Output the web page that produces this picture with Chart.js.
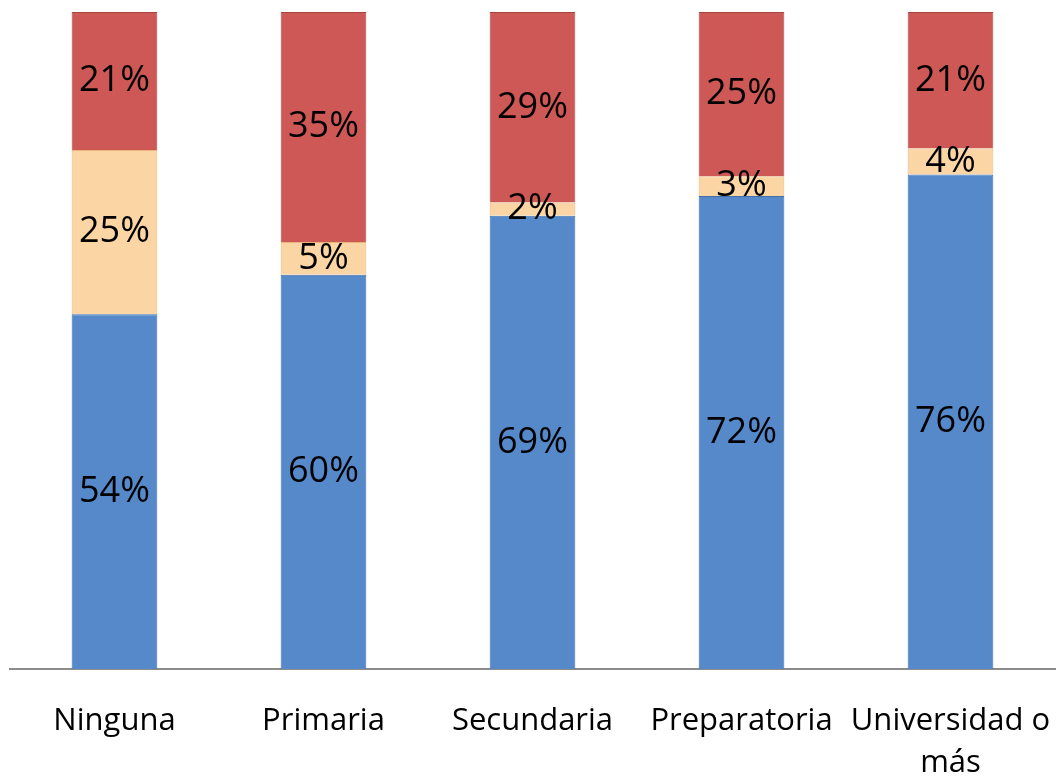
<!DOCTYPE html>
<html>
<head>
<meta charset="utf-8">
<script src="https://cdn.jsdelivr.net/npm/chart.js@4/dist/chart.umd.min.js"></script>
<style>
  html, body { margin: 0; padding: 0; background: #fff; }
  #wrap { width: 1057px; height: 777px; }
</style>
</head>
<body>
<div id="wrap"><canvas id="chart"></canvas></div>
<script>
// Datos
const categories = ["Ninguna", "Primaria", "Secundaria", "Preparatoria", ["Universidad o", "más"]];
const serieAzul = [54, 60, 69, 72, 76];
const serieDurazno = [25, 5, 2, 3, 4];
const serieRoja = [21, 35, 29, 25, 21];

// 100% apilado: cada columna se normaliza a su total
const totals = serieAzul.map((v, i) => v + serieDurazno[i] + serieRoja[i]);
const pct = arr => arr.map((v, i) => v / totals[i] * 100);

// Etiquetas dentro de cada segmento
const labelPlugin = {
  id: "segLabels",
  afterDatasetsDraw(chart) {
    const ctx = chart.ctx;
    ctx.save();
    ctx.font = "36px 'Open Sans', sans-serif";
    ctx.fillStyle = "#000";
    ctx.textAlign = "center";
    ctx.textBaseline = "middle";
    chart.data.datasets.forEach((ds, di) => {
      chart.getDatasetMeta(di).data.forEach((bar, i) => {
        const y = (bar.y + bar.base) / 2;
        ctx.fillText(ds.raw[i] + "%", bar.x, y);
      });
    });
    ctx.restore();
  }
};

new Chart(document.getElementById("chart"), {
  type: "bar",
  data: {
    labels: categories,
    datasets: [
      { data: pct(serieAzul), raw: serieAzul, backgroundColor: "#5589CA", borderColor: "#3F6FA8", borderWidth: 1 },
      { data: pct(serieDurazno), raw: serieDurazno, backgroundColor: "#FCD5A4", borderColor: "#E8B47A", borderWidth: 1 },
      { data: pct(serieRoja), raw: serieRoja, backgroundColor: "#CD5855", borderColor: "#A84542", borderWidth: 1 }
    ]
  },
  options: {
    responsive: true,
    maintainAspectRatio: false,
    animation: false,
    layout: { padding: { top: 12, left: 10, right: 2, bottom: 0 } },
    plugins: { legend: { display: false }, tooltip: { enabled: false } },
    datasets: { bar: { categoryPercentage: 1, barPercentage: 0.41 } },
    scales: {
      x: {
        stacked: true,
        grid: { display: false },
        border: { color: "#8c8c8c", width: 2 },
        ticks: { color: "#000", font: { family: "'Open Sans', sans-serif", size: 31, lineHeight: 1.35 }, padding: 23, maxRotation: 0, autoSkip: false },
        afterFit(scale) {
          scale.height = 108;
          scale.paddingLeft = 0;
          scale.paddingRight = 0;
        }
      },
      y: {
        stacked: true,
        min: 0,
        max: 100,
        display: false
      }
    }
  },
  plugins: [labelPlugin]
});
</script>
</body>
</html>
